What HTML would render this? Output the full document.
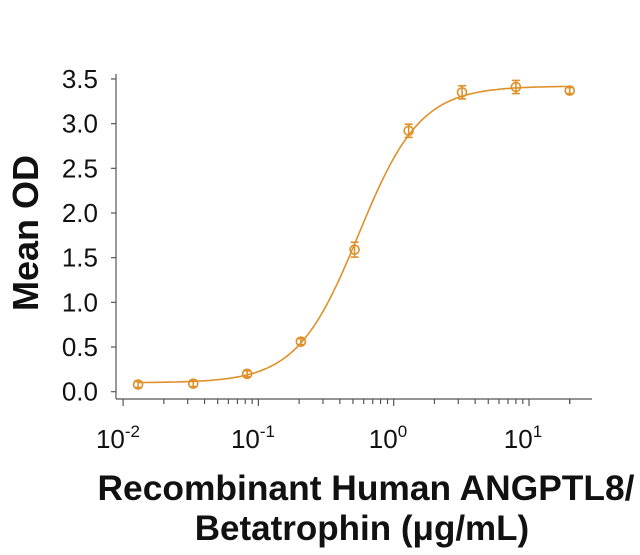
<!DOCTYPE html>
<html><head><meta charset="utf-8"><style>
html,body{margin:0;padding:0;background:#fff;width:640px;height:555px;overflow:hidden}
svg text{font-family:"Liberation Sans",Arial,sans-serif;fill:#111}
</style></head><body>
<svg id="s" width="640" height="555" viewBox="0 0 640 555" xmlns="http://www.w3.org/2000/svg">
<g stroke="#555" stroke-width="1.2" fill="none">
<line x1="116" y1="74" x2="116" y2="399"/>
<line x1="116" y1="399" x2="592" y2="399"/>
</g>
<g id="yt" stroke="#555" stroke-width="1.2"></g>
<g id="xt" stroke="#555" stroke-width="1.2"></g>
<g font-size="26" text-anchor="end" id="yl"></g>
<g font-size="26" text-anchor="middle">
<text x="118" y="448">10<tspan font-size="17" dy="-11">-2</tspan></text>
<text x="253" y="448">10<tspan font-size="17" dy="-11">-1</tspan></text>
<text x="388" y="448">10<tspan font-size="17" dy="-11">0</tspan></text>
<text x="523" y="448">10<tspan font-size="17" dy="-11">1</tspan></text>
</g>
<text transform="translate(38,233) rotate(-90)" font-size="36" font-weight="bold" text-anchor="middle">Mean OD</text>
<text x="366" y="500" font-size="35" font-weight="bold" text-anchor="middle" textLength="537" lengthAdjust="spacingAndGlyphs">Recombinant Human ANGPTL8/</text>
<text x="362" y="540" font-size="35" font-weight="bold" text-anchor="middle">Betatrophin (μg/mL)</text>
<path id="curve" fill="none" stroke="#E0902A" stroke-width="1.6"/>
<g id="pts" fill="none" stroke="#E0902A" stroke-width="1.6"></g>
</svg>
<script>
var ns="http://www.w3.org/2000/svg";
function X(v){return 393.7+Math.log10(v)*135.3}
function Y(v){return 391.7-v*89.35}
function el(p,n,a){var e=document.createElementNS(ns,n);for(var k in a)e.setAttribute(k,a[k]);document.getElementById(p).appendChild(e);return e}
for(var i=0;i<=7;i++){var y=Y(i*0.5);el("yt","line",{x1:111,x2:116,y1:y,y2:y});var t=el("yl","text",{x:98,y:y+9});t.textContent=(i*0.5).toFixed(1);}
for(var d=-2;d<=1;d++){for(var m=1;m<=9;m++){var v=m*Math.pow(10,d);var x=X(v);if(x>592)break;el("xt","line",{x1:x,x2:x,y1:399,y2:m==1?406:404});}}
el("xt","line",{x1:X(20),x2:X(20),y1:399,y2:404});
function f(x){var r=Math.pow(x/0.55,1.9);return 0.1+3.32*r/(1+r)}
var d="";for(var lx=Math.log10(0.0129);lx<=Math.log10(20)+1e-9;lx+=0.01){var x=Math.pow(10,lx);d+=(d?"L":"M")+X(x).toFixed(1)+","+Y(f(x)).toFixed(1)}
document.getElementById("curve").setAttribute("d",d);
var xs=[0.0129,0.033,0.0826,0.206,0.514,1.29,3.2,8,20],ys=[0.08,0.09,0.2,0.56,1.59,2.92,3.35,3.41,3.37],es=[0,0,0,0,0.05,0.04,0.04,0.04,0];
for(var i=0;i<xs.length;i++){var cx=X(xs[i]),cy=Y(ys[i]);el("pts","circle",{cx:cx,cy:cy,r:4.5});
var e=es[i]*89.35+3;el("pts","line",{x1:cx,x2:cx,y1:cy-e,y2:cy+e});el("pts","line",{x1:cx-4,x2:cx+4,y1:cy-e,y2:cy-e});el("pts","line",{x1:cx-4,x2:cx+4,y1:cy+e,y2:cy+e});}
</script>
</body></html>
